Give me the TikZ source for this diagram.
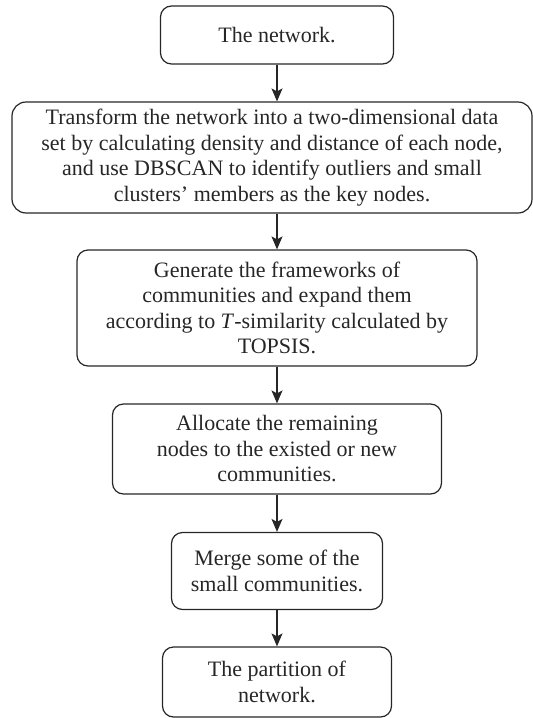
\documentclass[tikz,border=0pt]{standalone}
\usepackage{fontspec}
\setmainfont{Liberation Serif}
\usetikzlibrary{arrows.meta,calc}
\begin{document}
\begin{tikzpicture}[x=1pt,y=1pt,
  box/.style={draw=black!85, line width=1.2pt, rounded corners=11pt, align=center,
    inner sep=0pt, font=\fontsize{22}{25.5}\selectfont, text=black!85},
  arr/.style={draw=black!85, line width=1.2pt, -{Stealth[length=13pt,width=11pt,inset=3pt]}}]
\useasboundingbox (0,0) rectangle (533,-718);
\node[box, minimum width=233, minimum height=58] (b1) at (277,-35) {The network.};
\node[box, minimum width=520, minimum height=111, rounded corners=14pt] (b2) at (272,-157.5)
  {Transform the network into a two-dimensional data\\set by calculating density and distance of each node,\\and use DBSCAN to identify outliers and small\\clusters' members as the key nodes.};
\node[box, minimum width=400, minimum height=116] (b3) at (277,-308)
  {Generate the frameworks of\\communities and expand them\\according to \textit{T}-similarity calculated by\\TOPSIS.};
\node[box, minimum width=329, minimum height=90] (b4) at (277,-449)
  {Allocate the remaining\\nodes to the existed or new\\communities.};
\node[box, minimum width=211, minimum height=77] (b5) at (277,-571)
  {Merge some of the\\small communities.};
\node[box, minimum width=229, minimum height=70] (b6) at (277,-682)
  {The partition of\\network.};
\draw[arr] (b1.south) -- (b1.south |- b2.north);
\draw[arr] (b1.south |- b2.south) -- (b3.north);
\draw[arr] (b3.south) -- (b4.north);
\draw[arr] (b4.south) -- (b5.north);
\draw[arr] (b5.south) -- (b6.north);
\end{tikzpicture}
\end{document}
